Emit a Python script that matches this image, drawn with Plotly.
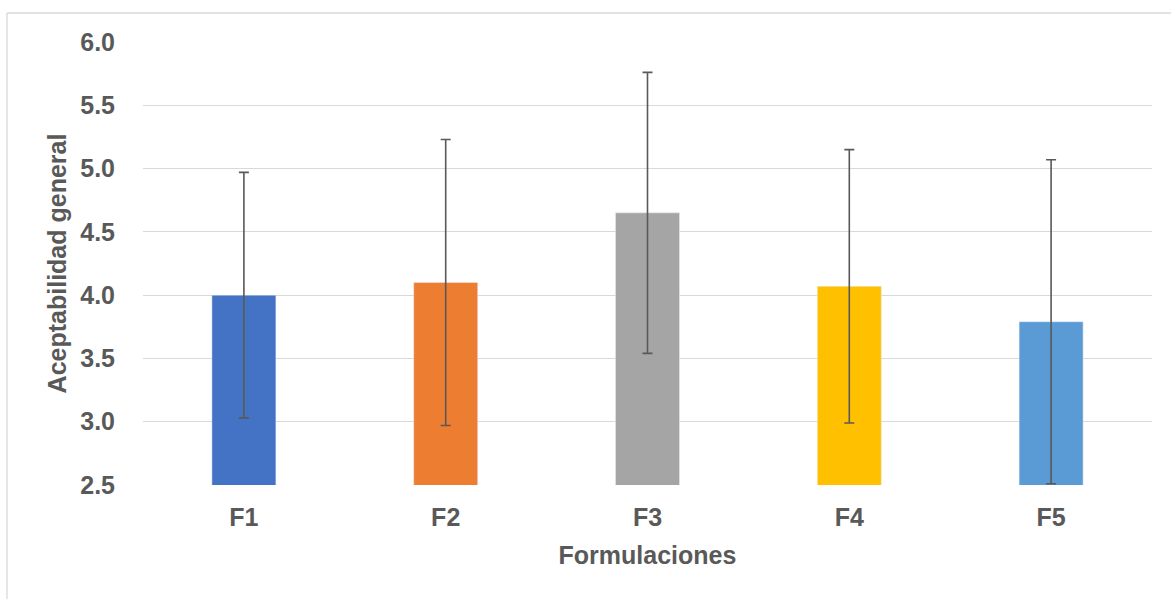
import plotly.graph_objects as go

categories = ["F1", "F2", "F3", "F4", "F5"]
means = [4.00, 4.10, 4.65, 4.07, 3.79]
err_plus = [0.97, 1.13, 1.11, 1.08, 1.28]
err_minus = [0.97, 1.13, 1.11, 1.08, 1.28]
colors = ["#4472C4", "#ED7D31", "#A5A5A5", "#FFC000", "#5B9BD5"]
yticks = [2.5, 3.0, 3.5, 4.0, 4.5, 5.0, 5.5, 6.0]

W, H = 1171, 599
L, R, T, B = 143, 19, 42, 114
pw, ph = W - L - R, H - T - B

fig = go.Figure(go.Bar(
    x=categories, y=means, marker_color=colors, width=0.317,
    error_y=dict(type="data", symmetric=False, array=err_plus, arrayminus=err_minus,
                 color="#595959", thickness=1.6, width=5),
))

font = "Liberation Sans, Arial, sans-serif"
fig.update_layout(
    width=W, height=H,
    margin=dict(l=L, r=R, t=T, b=B),
    plot_bgcolor="white", paper_bgcolor="white",
    showlegend=False,
    font=dict(family=font, color="#595959"),
    xaxis=dict(
        tickfont=dict(size=25, family=font, color="#595959", weight="bold"),
        ticks="outside", ticklen=10, tickcolor="rgba(0,0,0,0)",
        title=dict(text="<b>Formulaciones</b>", font=dict(size=25, color="#595959"), standoff=16),
        showline=False, range=[-0.5, 4.5],
    ),
    yaxis=dict(
        range=[2.5, 6.0], tickvals=yticks, ticktext=[f"{v:.1f}" for v in yticks],
        tickfont=dict(size=25, family=font, color="#595959", weight="bold"),
        ticks="outside", ticklen=22, tickcolor="rgba(0,0,0,0)",
        gridcolor="#D9D9D9", gridwidth=1.3, zeroline=False, showline=False,
        title=dict(text="<b>Aceptabilidad general</b>", font=dict(size=25, color="#595959"), standoff=6),
    ),
    shapes=[
        dict(type="line", xref="paper", yref="paper",
             x0=(7 - L) / pw, x1=(W - L) / pw + 0.01, y0=(H - B - 13) / ph, y1=(H - B - 13) / ph,
             line=dict(color="#D9D9D9", width=1.3)),
        dict(type="line", xref="paper", yref="paper",
             x0=(7 - L) / pw, x1=(7 - L) / pw, y0=(H - B - 13) / ph, y1=-(B + 5) / ph,
             line=dict(color="#D9D9D9", width=1.3)),
    ],
)

fig.write_html("out.html", config={"displayModeBar": False},
               post_script="document.body.style.margin='0';document.body.style.overflow='hidden';")
